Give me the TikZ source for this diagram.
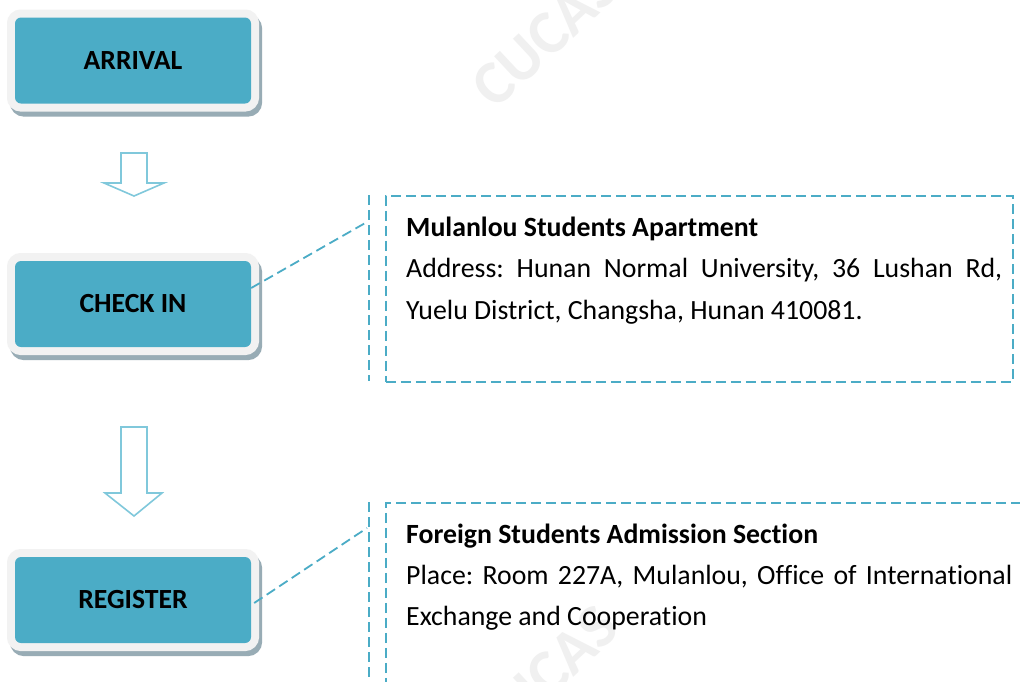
\documentclass[tikz,border=0pt]{standalone}
\usepackage{fontspec}
\setmainfont[Ligatures=NoCommon]{Carlito}
\usetikzlibrary{shadows}
\definecolor{teal5}{HTML}{4BACC6}
\definecolor{framec}{HTML}{F2F2F2}
\definecolor{shadowc}{HTML}{98ACB5}
\definecolor{arrowc}{HTML}{80C8DB}
\definecolor{wmark}{HTML}{F0F0F0}
\frenchspacing
\begin{document}
\begin{tikzpicture}[x=1pt,y=-1pt,
  stagebox/.style={rectangle, rounded corners=6pt, fill=teal5, minimum width=236pt,
    minimum height=86pt, inner sep=0pt, font=\fontsize{27.7}{33}\selectfont\bfseries,
    general shadow={draw=shadowc, fill=shadowc, line width=16pt, shadow xshift=3pt, shadow yshift=-5pt},
    preaction={draw=framec, line width=16pt}},
  blockarrow/.style={draw=arrowc, line width=1.6pt, fill=white, line join=miter},
  callout/.style={draw=teal5, line width=1.8pt, dash pattern=on 10pt off 5pt},
  txt/.style={inner sep=0pt, font=\fontsize{27.8}{41.5}\selectfont},
  wm/.style={rotate=43, inner sep=0pt, text=wmark, font=\fontsize{62}{62}\selectfont\bfseries}]
\clip (0,0) rectangle (1020,681);
\fill[white] (0,0) rectangle (1020,681);
% watermarks
\node[wm] (wm1) at (545,37) {CUCAS};
\node[wm] (wm2) at (545,676) {CUCAS};
% stages
\node[stagebox] (arrival) at (133,60.5) {ARRIVAL};
\node[stagebox] (checkin) at (133,304) {CHECK IN};
\node[stagebox] (register) at (133,600) {REGISTER};
% block arrows
\draw[blockarrow] (121,153) -- (147,153) -- (147,183) -- (164,183) -- (134,196) -- (104,183) -- (121,183) -- cycle;
\draw[blockarrow] (121,427) -- (147,427) -- (147,493) -- (162,493) -- (134,516) -- (105,493) -- (121,493) -- cycle;
% callout 1
\node[callout, rectangle, anchor=north west, minimum width=627pt, minimum height=186pt, inner sep=0pt] (info1) at (385,195) {};
\coordinate (bar1t) at (369,195);
\coordinate (bar1b) at (369,381);
\draw[callout] (bar1t) -- (bar1b);
\coordinate (c1) at (367,222);
\draw[callout] ([yshift=16pt]checkin.east) -- (c1);
\node[txt, anchor=base west] (t1a) at (406,236) {\bfseries Mulanlou Students Apartment};
\node[txt, anchor=base west] (t1b) at (406,277.5) {\makebox[596pt][s]{Address: Hunan Normal University, 36 Lushan Rd,}};
\node[txt, anchor=base west] (t1c) at (406,319) {Yuelu District, Changsha, Hunan 410081.};
% callout 2
\node[callout, rectangle, anchor=north west, minimum width=660pt, minimum height=200pt, inner sep=0pt] (info2) at (385,502) {};
\coordinate (bar2t) at (369,502);
\coordinate (bar2b) at (369,690);
\draw[callout] (bar2t) -- (bar2b);
\coordinate (c2) at (367,528);
\draw[callout] ([xshift=3pt,yshift=-3pt]register.east) -- (c2);
\node[txt, anchor=base west] (t2a) at (406,543) {\bfseries Foreign Students Admission Section};
\node[txt, anchor=base west] (t2b) at (406,584) {\makebox[606pt][s]{Place: Room 227A, Mulanlou, Office of International}};
\node[txt, anchor=base west] (t2c) at (406,625) {Exchange and Cooperation};
\end{tikzpicture}
\end{document}
